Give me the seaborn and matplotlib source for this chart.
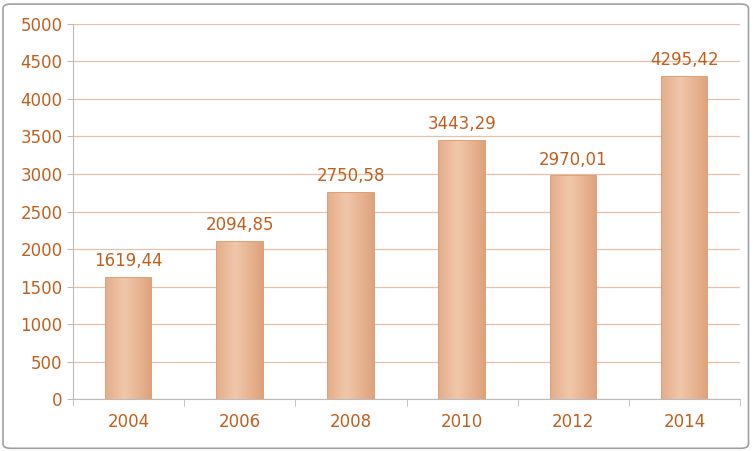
import matplotlib
matplotlib.use("Agg")
import matplotlib.pyplot as plt
import seaborn as sns
import numpy as np
import pandas as pd
from matplotlib.patches import FancyBboxPatch
from matplotlib.colors import LinearSegmentedColormap

years = ["2004", "2006", "2008", "2010", "2012", "2014"]
values = [1619.44, 2094.85, 2750.58, 3443.29, 2970.01, 4295.42]
labels = ["1619,44", "2094,85", "2750,58", "3443,29", "2970,01", "4295,42"]
yticks = [0, 500, 1000, 1500, 2000, 2500, 3000, 3500, 4000, 4500, 5000]

txt = "#C0601E"
df = pd.DataFrame({"year": years, "value": values})

fig = plt.figure(figsize=(7.53, 4.51), dpi=100)
fig.patch.set_facecolor("white")
fig.patches.append(FancyBboxPatch((0.004, 0.006), 0.99, 0.985, boxstyle="round,pad=0,rounding_size=0.01",
                                  transform=fig.transFigure, facecolor="none", edgecolor="#A0A0A0",
                                  lw=1.2, zorder=-1))
ax = fig.add_axes([0.097, 0.115, 0.886, 0.832])
ax.set_facecolor("none")
sns.barplot(data=df, x="year", y="value", ax=ax, width=0.41, color="#E9B898",
            edgecolor="#D98E5E", linewidth=1.2, zorder=3)

grad = np.linspace(0, 1, 100).reshape(1, -1)
grad = 1 - np.abs(grad - 0.4) * 1.2
cmap = LinearSegmentedColormap.from_list("g", ["#D7946A", "#F0C7AA"])
for p in ax.patches:
    x0, y0 = p.get_x(), p.get_y()
    w, h = p.get_width(), p.get_height()
    im = ax.imshow(grad, extent=[x0, x0 + w, y0, y0 + h], aspect="auto", cmap=cmap,
                   vmin=0, vmax=1, zorder=3.5)
    im.set_clip_path(p)
for i, (v, l) in enumerate(zip(values, labels)):
    ax.text(i, v + 100, l, ha="center", va="bottom", color=txt, fontsize=12, zorder=5)

ax.set_xlim(-0.5, 5.5)
ax.set_ylim(0, 5000)
ax.set_yticks(yticks)
ax.set_yticklabels([str(t) for t in yticks])
ax.grid(axis="y", color="#E8C2A8", lw=0.9, zorder=0)
ax.set_axisbelow(True)
for s in ["top", "right"]:
    ax.spines[s].set_visible(False)
ax.spines["left"].set_color("#BBBBBB")
ax.spines["bottom"].set_color("#BBBBBB")
ax.tick_params(colors=txt, labelsize=12)
ax.tick_params(axis="x", length=0, pad=10)
ax.set_xticks([x + 0.5 for x in range(-1, 6)], minor=True)
ax.tick_params(axis="x", which="minor", length=5, color="#BBBBBB")
ax.tick_params(axis="y", length=4, color="#BBBBBB")
ax.set_xlabel("")
ax.set_ylabel("")
fig.savefig("out.png", dpi=100)
